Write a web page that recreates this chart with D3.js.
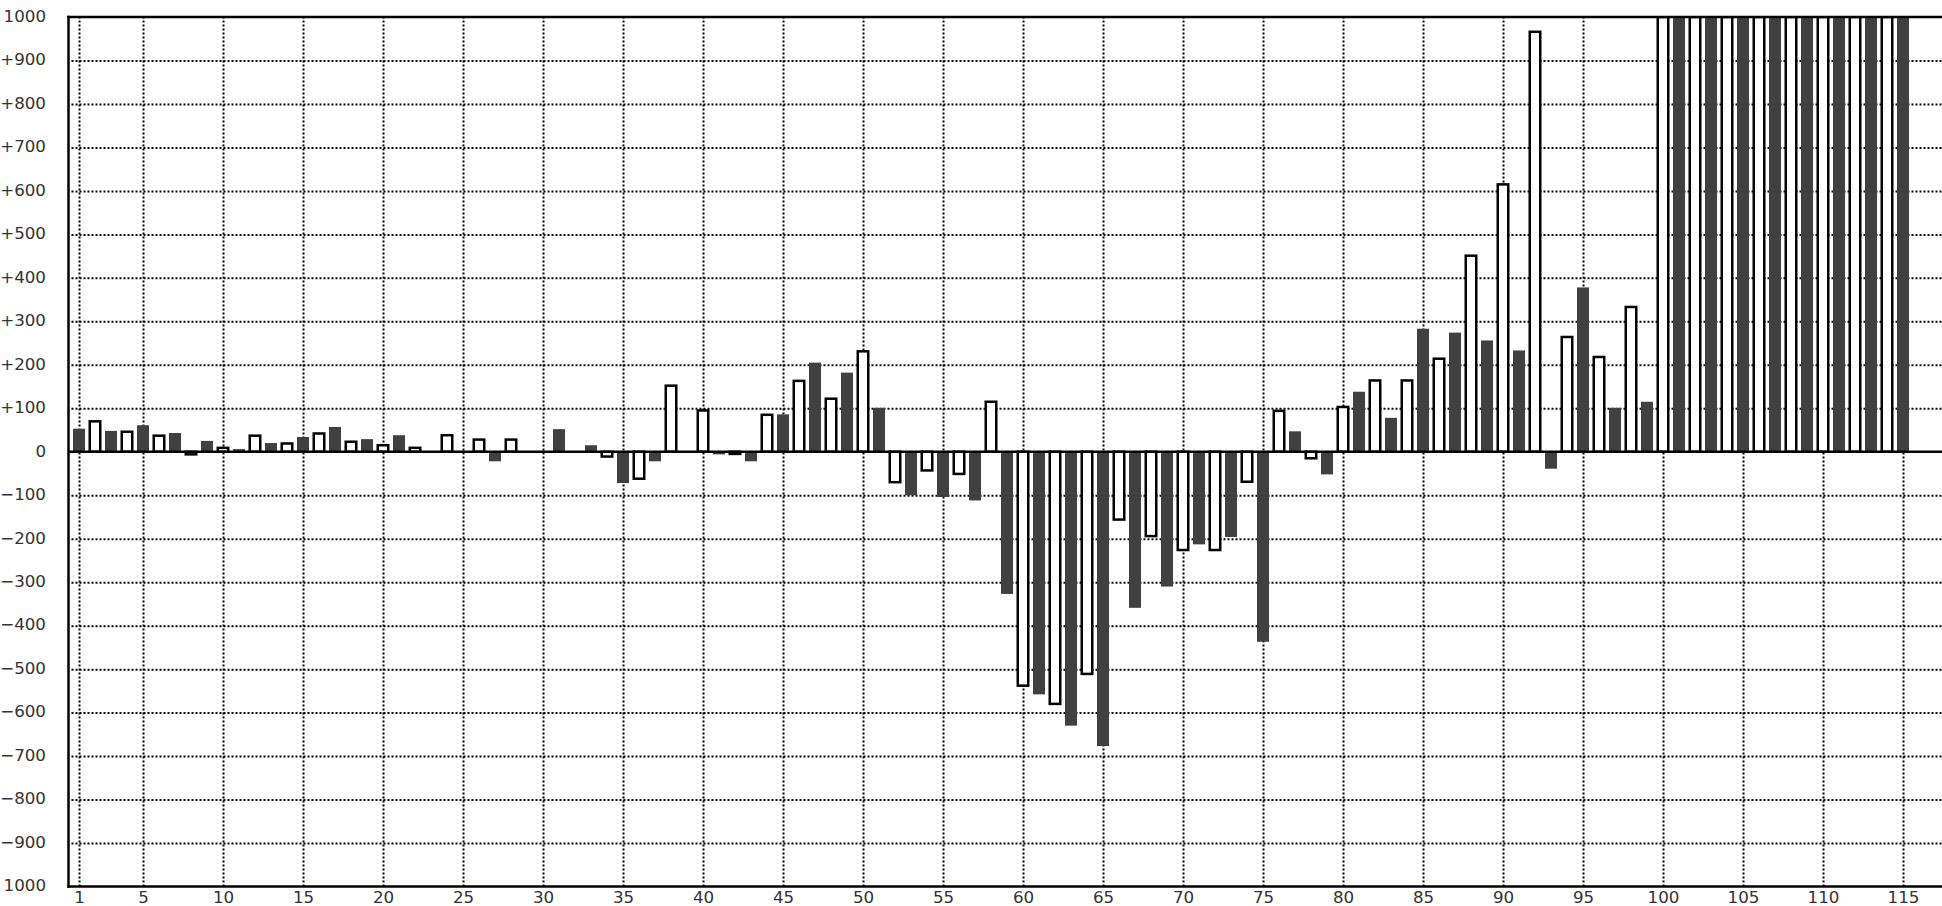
<!DOCTYPE html>
<html><head><meta charset="utf-8">
<script src="https://cdn.jsdelivr.net/npm/d3@7"></script>
<style>html,body{margin:0;padding:0;background:#fff;overflow:hidden}</style>
</head><body><svg id="c" width="1942" height="906"></svg>
<script>
// ---- data ----
const darkCategories = [1,3,5,7,9,11,13,15,17,19,21,23,25,27,29,31,33,35,37,39,41,43,45,47,49,51,53,55,57,59,61,63,65,67,69,71,73,75,77,79,81,83,85,87,89,91,93,95,97,99,101,103,105,107,109,111,113,115];
const darkValues = [53,48,61,43,25,6,20,34,57,29,38,0,0,-22,-2,52,15,-72,-22,0,-6,-22,86,205,182,101,-100,-104,-112,-327,-558,-630,-677,-359,-310,-213,-196,-437,47,-52,138,78,283,274,256,233,-39,378,101,115,1000,1000,1000,1000,1000,1000,1000,1000];
const whiteCategories = [2,4,6,8,10,12,14,16,18,20,22,24,26,28,30,32,34,36,38,40,42,44,46,48,50,52,54,56,58,60,62,64,66,68,70,72,74,76,78,80,82,84,86,88,90,92,94,96,98,100,102,104,106,108,110,112,114];
const whiteValues = [70,46,37,-6,9,37,19,42,23,15,9,38,28,28,0,0,-11,-62,152,95,-5,85,163,122,231,-70,-43,-51,115,-538,-580,-511,-156,-194,-226,-226,-69,94,-15,103,164,164,214,451,615,966,264,218,333,1000,1000,1000,1000,1000,1000,1000,1000];
const xTickValues = [1,5,10,15,20,25,30,35,40,45,50,55,60,65,70,75,80,85,90,95,100,105,110,115];
const yTickValues = [-1000,-900,-800,-700,-600,-500,-400,-300,-200,-100,0,100,200,300,400,500,600,700,800,900,1000];
const yTickLabels = ["1000","\u2212900","\u2212800","\u2212700","\u2212600","\u2212500","\u2212400","\u2212300","\u2212200","\u2212100","0","+100","+200","+300","+400","+500","+600","+700","+800","+900","1000"];

// ---- layout ----
const W = 1942, H = 906;
const plotLeft = 68.5, plotTop = 17, plotBottom = 886.5, plotRight = 1942;
const FONT = "'DejaVu Sans', Verdana, sans-serif";

const x = d3.scaleLinear().domain([1, 115]).range([79, 1903]);
const y = d3.scaleLinear().domain([-1000, 1000]).range([plotBottom, plotTop]);

const svg = d3.select("#c");
svg.append("defs").append("clipPath").attr("id", "clip")
  .append("rect").attr("x", plotLeft).attr("y", plotTop)
  .attr("width", plotRight - plotLeft).attr("height", plotBottom - plotTop);

// ---- grid ----
const hGridVals = yTickValues.filter(v => v !== 0 && Math.abs(v) !== 1000);
const hGrid = svg.append("g").attr("transform", `translate(${plotLeft + 3},0)`)
  .call(d3.axisLeft(y).tickValues(hGridVals).tickSize(-(plotRight - plotLeft - 3)).tickFormat(""));
hGrid.select(".domain").remove();
hGrid.selectAll("line").attr("stroke", "#000").attr("stroke-width", 2).attr("stroke-dasharray", "2,2");

const vGrid = svg.append("g").attr("transform", `translate(0,${plotBottom})`)
  .call(d3.axisBottom(x).tickValues(xTickValues).tickSize(-(plotBottom - plotTop)).tickFormat(""));
vGrid.select(".domain").remove();
vGrid.selectAll("line").attr("stroke", "#000").attr("stroke-width", 2).attr("stroke-dasharray", "2,2");

// ---- bars ----
const bars = svg.append("g").attr("clip-path", "url(#clip)");
const dark = darkCategories.map((c, i) => ({c, v: darkValues[i]})).filter(d => d.v !== 0);
const white = whiteCategories.map((c, i) => ({c, v: whiteValues[i]})).filter(d => d.v !== 0);

bars.selectAll("rect.dark").data(dark).join("rect").attr("class", "dark")
  .attr("x", d => x(d.c) - 6).attr("width", 12)
  .attr("y", d => y(Math.max(0, d.v)))
  .attr("height", d => Math.abs(y(d.v) - y(0)))
  .attr("fill", "#404040");

bars.selectAll("rect.white").data(white).join("rect").attr("class", "white")
  .attr("x", d => x(d.c) - 5.25).attr("width", 10.5)
  .attr("y", d => y(Math.max(0, d.v)))
  .attr("height", d => Math.abs(y(d.v) - y(0)))
  .attr("fill", "#fff").attr("stroke", "#000").attr("stroke-width", 2.5);

// ---- zero line & frame ----
svg.append("line").attr("x1", plotLeft).attr("x2", plotRight).attr("y1", y(0)).attr("y2", y(0))
  .attr("stroke", "#000").attr("stroke-width", 2.6);
svg.append("line").attr("x1", plotLeft - 1.2).attr("x2", plotRight).attr("y1", plotTop).attr("y2", plotTop)
  .attr("stroke", "#000").attr("stroke-width", 2.5);
svg.append("line").attr("x1", plotLeft - 1.2).attr("x2", plotRight).attr("y1", plotBottom).attr("y2", plotBottom)
  .attr("stroke", "#000").attr("stroke-width", 2.5);
svg.append("line").attr("x1", plotLeft).attr("x2", plotLeft).attr("y1", plotTop - 1.2).attr("y2", plotBottom + 1.2)
  .attr("stroke", "#000").attr("stroke-width", 2.5);

// ---- labels ----
const yAxis = svg.append("g").attr("transform", "translate(46,0)")
  .call(d3.axisLeft(y).tickValues(yTickValues).tickSize(0).tickPadding(0)
    .tickFormat((d, i) => yTickLabels[i]));
yAxis.select(".domain").remove();
yAxis.selectAll("text").attr("font-family", FONT).attr("font-size", "16.7px")
  .attr("fill", "#333").attr("dy", "0.26em");

const xAxis = svg.append("g").attr("transform", `translate(0,${plotBottom + 4.5})`)
  .call(d3.axisBottom(x).tickValues(xTickValues).tickSize(0).tickPadding(0));
xAxis.select(".domain").remove();
xAxis.selectAll("text").attr("font-family", FONT).attr("font-size", "16.7px").attr("fill", "#333");
</script>
</body></html>
